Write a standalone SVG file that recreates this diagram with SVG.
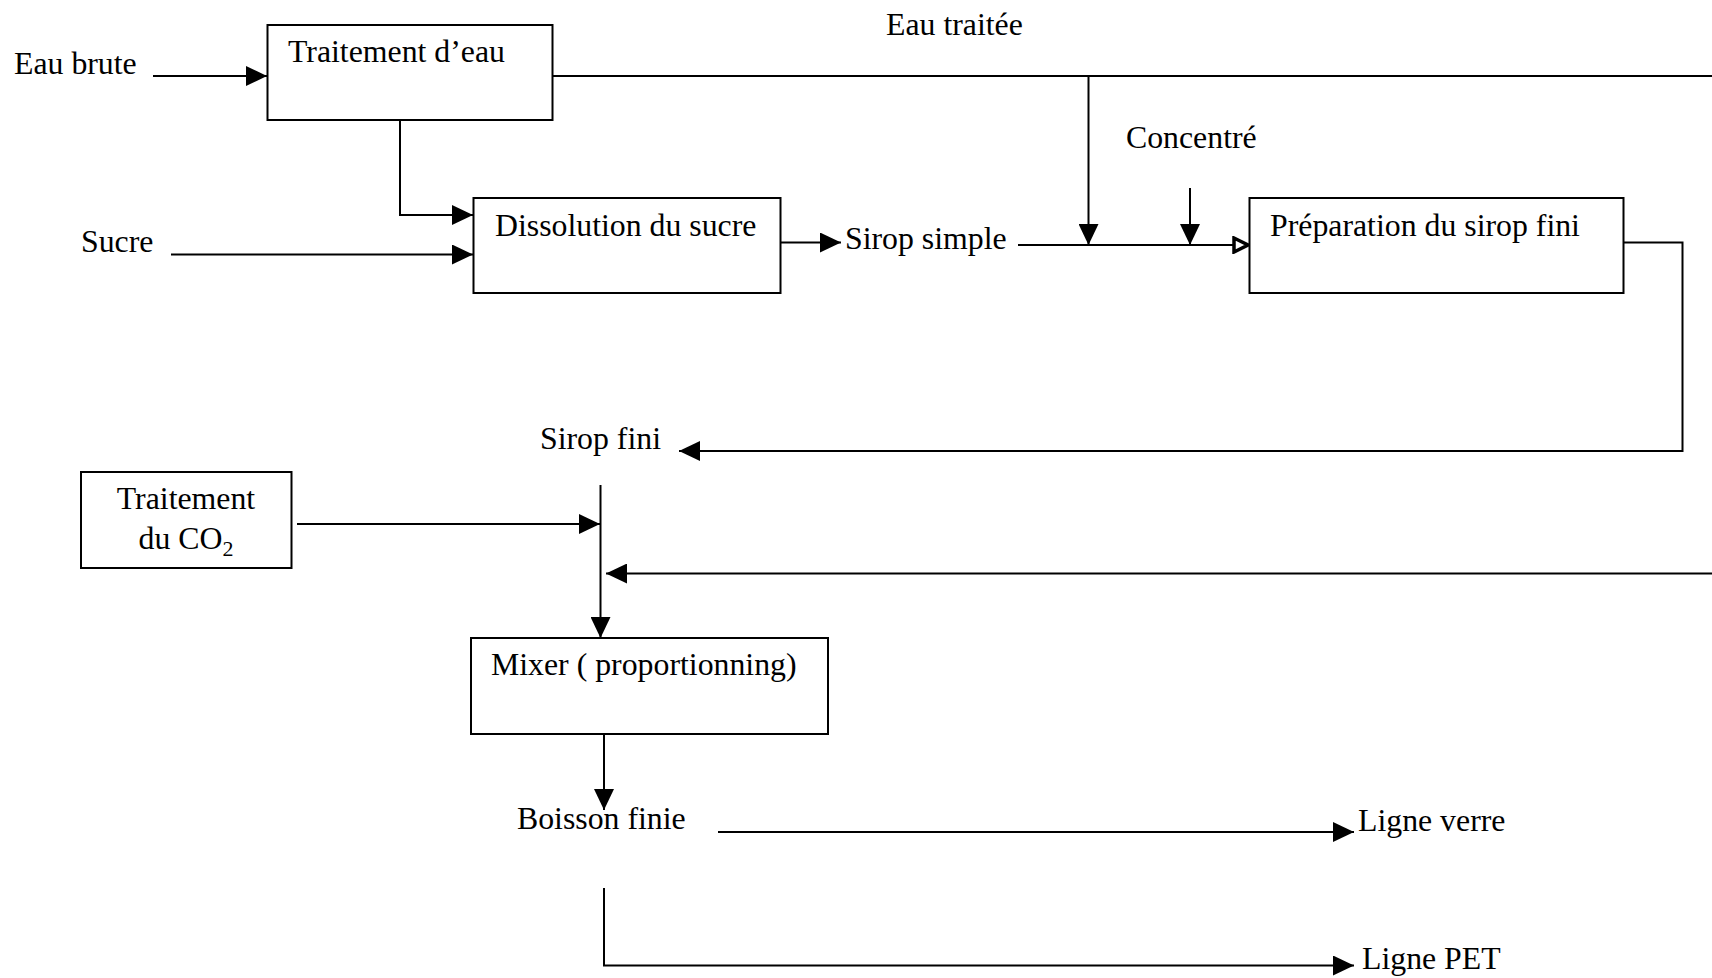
<svg xmlns="http://www.w3.org/2000/svg" width="1712" height="978" viewBox="0 0 1712 978">
  <style>
    .box { fill: #fff; stroke: #000; stroke-width: 2; }
    .lbl { font-family: "Liberation Serif", "Times New Roman", serif; font-size: 31.8px; fill: #000; }
    .wire { fill: none; stroke: #000; stroke-width: 2; }
  </style>
  <defs>
    <marker id="arr" viewBox="0 0 21 20" refX="21" refY="10" markerWidth="21" markerHeight="20" orient="auto" markerUnits="userSpaceOnUse">
      <path d="M0,0 L21,10 L0,20 z" fill="#000"/>
    </marker>
    <marker id="arrOpen" viewBox="0 0 18 18" refX="17" refY="9" markerWidth="18" markerHeight="18" orient="auto" markerUnits="userSpaceOnUse">
      <path d="M2,2 L16,9 L2,16 z" fill="#fff" stroke="#000" stroke-width="3.5"/>
    </marker>
  </defs>
  <rect width="1712" height="978" fill="#fff"/>

  <!-- process blocks -->
  <g id="traitement-eau">
    <rect class="box" x="267.5" y="25" width="285" height="95"/>
    <text class="lbl" x="288" y="62">Traitement d’eau</text>
  </g>
  <g id="dissolution-sucre">
    <rect class="box" x="473.5" y="198" width="307" height="95"/>
    <text class="lbl" x="495" y="236">Dissolution du sucre</text>
  </g>
  <g id="preparation-sirop">
    <rect class="box" x="1249.5" y="198" width="374" height="95"/>
    <text class="lbl" x="1270" y="236">Préparation du sirop fini</text>
  </g>
  <g id="traitement-co2">
    <rect class="box" x="81" y="472" width="210.5" height="96"/>
    <text class="lbl" x="186" y="509" text-anchor="middle">Traitement</text>
    <text class="lbl" x="186" y="549" text-anchor="middle">du CO<tspan font-size="22" dy="7">2</tspan></text>
  </g>
  <g id="mixer">
    <rect class="box" x="471" y="638" width="357" height="96"/>
    <text class="lbl" x="491" y="675">Mixer ( proportionning)</text>
  </g>

  <!-- stream labels -->
  <g id="flux">
    <text class="lbl" x="14" y="74">Eau brute</text>
    <text class="lbl" x="886" y="35">Eau traitée</text>
    <text class="lbl" x="1126" y="148">Concentré</text>
    <text class="lbl" x="81" y="252">Sucre</text>
    <text class="lbl" x="845" y="249">Sirop simple</text>
    <text class="lbl" x="540" y="449">Sirop fini</text>
    <text class="lbl" x="517" y="829">Boisson finie</text>
    <text class="lbl" x="1358" y="831">Ligne verre</text>
    <text class="lbl" x="1362" y="969">Ligne PET</text>
  </g>

  <!-- connectors -->
  <g id="connectors" class="wire">
    <path d="M153,76 H267" marker-end="url(#arr)"/>
    <path d="M552.5,76 H1712"/>
    <path d="M1088.5,76 V245" marker-end="url(#arr)"/>
    <path d="M1190,188 V245" marker-end="url(#arr)"/>
    <path d="M400,120 V215 H473" marker-end="url(#arr)"/>
    <path d="M171,254.5 H473" marker-end="url(#arr)"/>
    <path d="M781,242.5 H841" marker-end="url(#arr)"/>
    <path d="M1018,245 H1249" marker-end="url(#arrOpen)"/>
    <path d="M1623.5,242.5 H1682.5 V451 H679" marker-end="url(#arr)"/>
    <path d="M297,524 H600" marker-end="url(#arr)"/>
    <path d="M1712,573.5 H606" marker-end="url(#arr)"/>
    <path d="M600.5,485 V638" marker-end="url(#arr)"/>
    <path d="M604,734 V810" marker-end="url(#arr)"/>
    <path d="M718,832 H1354" marker-end="url(#arr)"/>
    <path d="M604,888 V965.5 H1354" marker-end="url(#arr)"/>
  </g>
</svg>
